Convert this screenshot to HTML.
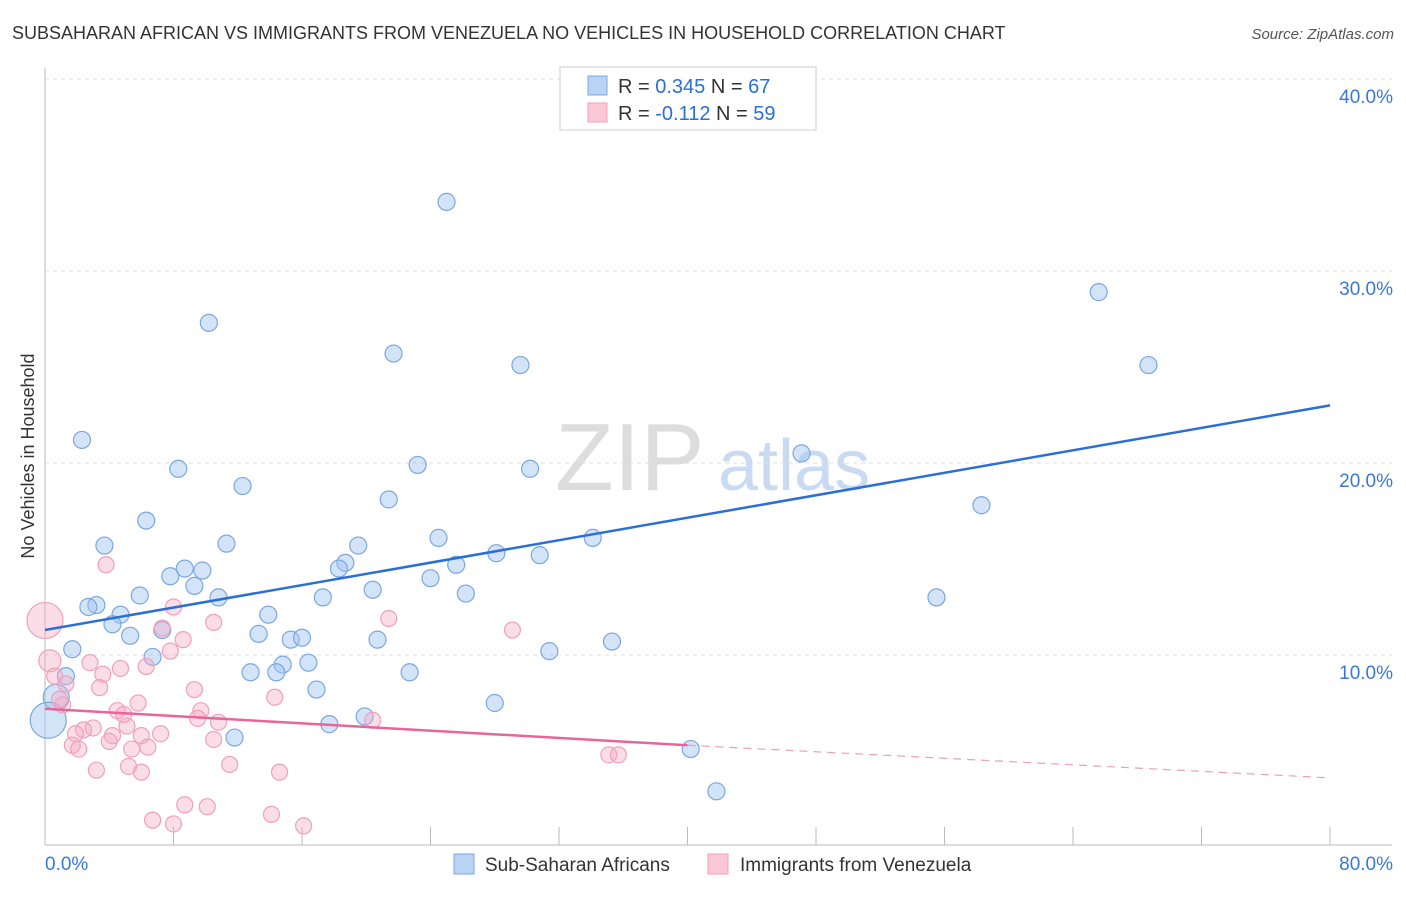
<!DOCTYPE html>
<html><head><meta charset="utf-8"><style>
body{margin:0;background:#fff;font-family:"Liberation Sans",sans-serif;}
svg text{font-family:"Liberation Sans",sans-serif;}
</style></head><body>
<svg id="chart" width="1406" height="892" viewBox="0 0 1406 892">
<text x="12" y="39" font-size="18" fill="#333">SUBSAHARAN AFRICAN VS IMMIGRANTS FROM VENEZUELA NO VEHICLES IN HOUSEHOLD CORRELATION CHART</text>
<text x="1394" y="39" font-size="15" fill="#555" text-anchor="end" font-style="italic">Source: ZipAtlas.com</text>
<text transform="translate(34,456) rotate(-90)" font-size="18" fill="#333" text-anchor="middle">No Vehicles in Household</text>
<text x="555" y="490" font-size="96" fill="#ddd" font-family="Liberation Serif">ZIP</text>
<text x="718" y="490" font-size="72" fill="#c8dbf3">atlas</text>
<g id="grid"></g><g id="axes"></g><g id="pts"></g><g id="lines"></g>
<g>
<rect x="560" y="67" width="256" height="63" fill="#fff" stroke="#ccc"/>
<rect x="588" y="76" width="19" height="19" fill="#b9d3f5" stroke="#7aa7e0"/>
<text x="618" y="93" font-size="20" fill="#333">R = <tspan fill="#2a6fd6">0.345</tspan>   N = <tspan fill="#2a6fd6">67</tspan></text>
<rect x="588" y="103" width="19" height="19" fill="#fbc8d8" stroke="#f0a0b8"/>
<text x="618" y="120" font-size="20" fill="#333">R = <tspan fill="#2a6fd6">-0.112</tspan>   N = <tspan fill="#2a6fd6">59</tspan></text>
</g>
<g>
<rect x="454" y="854" width="20" height="20" fill="#b9d3f5" stroke="#7aa7e0"/>
<text x="485" y="871" font-size="19" fill="#333">Sub-Saharan Africans</text>
<rect x="708" y="854" width="20" height="20" fill="#fbc8d8" stroke="#f0a0b8"/>
<text x="740" y="871" font-size="19" fill="#333">Immigrants from Venezuela</text>
</g>
</svg>
<script>
const blueX=[40.6,25.0,10.2,65.6,68.7,21.7,29.6,2.3,8.3,12.3,23.2,30.2,47.1,58.3,21.4,6.3,3.7,11.3,24.5,34.1,19.5,28.1,30.8,18.7,18.3,25.6,8.7,9.8,7.8,24.0,9.3,20.4,26.2,5.9,10.8,17.3,55.5,3.2,2.7,4.7,13.9,4.2,7.3,5.3,13.3,15.3,16.0,20.7,35.3,1.7,31.4,6.7,14.8,16.4,12.8,14.4,22.7,1.3,16.9,0.7,28.0,19.9,17.7,11.8,40.2,41.8,0.2];
const blueY=[38.0,33.6,27.3,28.9,25.1,25.7,25.1,21.2,19.7,18.8,19.9,19.7,20.5,17.8,18.1,17.0,15.7,15.8,16.1,16.1,15.7,15.3,15.2,14.8,14.5,14.7,14.5,14.4,14.1,14.0,13.6,13.4,13.2,13.1,13.0,13.0,13.0,12.6,12.5,12.1,12.1,11.6,11.3,11.0,11.1,10.8,10.9,10.8,10.7,10.3,10.2,9.9,9.5,9.6,9.1,9.1,9.1,8.9,8.2,7.8,7.5,6.8,6.4,5.7,5.1,2.9,6.6];
const pinkX=[0,0.3,0.6,0.9,1.3,1.1,3.8,8.0,7.3,10.5,21.4,29.1,8.6,7.8,2.8,4.7,6.3,3.6,3.4,9.3,14.3,5.8,4.5,4.9,9.7,9.5,10.8,20.4,5.1,2.4,3.0,1.9,4.2,6.0,7.2,10.5,4.0,1.7,2.1,5.4,6.4,35.1,35.7,11.5,5.2,6.0,3.2,14.6,8.7,10.1,14.1,6.7,8.0,16.1];
const pinkY=[11.8,9.7,8.9,7.7,8.5,7.4,14.7,12.5,11.4,11.7,11.9,11.3,10.8,10.2,9.6,9.3,9.4,9.0,8.3,8.2,7.8,7.5,7.1,6.9,7.1,6.7,6.5,6.6,6.3,6.1,6.2,5.9,5.8,5.8,5.9,5.6,5.5,5.3,5.1,5.1,5.2,4.8,4.8,4.3,4.2,3.9,4.0,3.9,2.2,2.1,1.7,1.4,1.2,1.1];
const blueTrend=[[0,11.3],[80,23.0]];
const pinkTrend=[[0,7.2],[40,5.3],[80,3.6]];
const yTicks=[10,20,30,40];
const xTickVals=[0,8,16,24,32,40,48,56,64,72,80];
const NS='http://www.w3.org/2000/svg';
const X=v=>45+v/80*1285, Y=v=>847-v*19.2;
function mk(tag,attrs,parent){const e=document.createElementNS(NS,tag);for(const k in attrs)e.setAttribute(k,attrs[k]);document.getElementById(parent).appendChild(e);return e;}
yTicks.forEach(t=>{
 const l=mk('line',{x1:45,x2:1392,y1:Y(t),y2:Y(t),stroke:'#ddd','stroke-dasharray':'4,4'},'grid');
 
 
 const tx=mk('text',{x:1393,y:Y(t)+24,'font-size':19,fill:'#3a78d8','text-anchor':'end'},'axes');tx.textContent=t.toFixed(1)+'%';
 
 
});
const ax=mk('line',{x1:45,x2:1392,y1:845,y2:845,stroke:'#bbb'},'axes');


const ay=mk('line',{x1:45,x2:45,y1:68,y2:845,stroke:'#bbb'},'axes');


xTickVals.forEach(t=>{const l=mk('line',{x1:X(t),x2:X(t),y1:827,y2:845,stroke:'#bbb'},'axes');
 
 });
[[0,'start',45],[80,'end',1393]].forEach(([v,a,p])=>{const t=mk('text',{x:p,y:870,'font-size':19,fill:'#3a78d8','text-anchor':a},'axes');t.textContent=v.toFixed(1)+'%';
 
 });
blueX.forEach((v,i)=>{const r=i==blueX.length-1?18:(i==59?13:8.5);
 const c=mk('circle',{cx:X(v),cy:Y(blueY[i]),r:r,fill:'rgba(160,195,240,0.45)',stroke:'#7aa7e0','stroke-width':1.2},'pts');
 
 });
pinkX.forEach((v,i)=>{const r=i==0?18:(i<2?11:8);
 const c=mk('circle',{cx:X(v),cy:Y(pinkY[i]),r:r,fill:'rgba(245,170,195,0.4)',stroke:'#f0a0b8','stroke-width':1.2},'pts');
 
 });
const bl=mk('line',{x1:X(blueTrend[0][0]),y1:Y(blueTrend[0][1]),x2:X(blueTrend[1][0]),y2:Y(blueTrend[1][1]),stroke:'#2a6fd6','stroke-width':2.5},'lines');


const pl=mk('line',{x1:X(pinkTrend[0][0]),y1:Y(pinkTrend[0][1]),x2:X(pinkTrend[1][0]),y2:Y(pinkTrend[1][1]),stroke:'#e8659a','stroke-width':2.5},'lines');


const pd=mk('line',{x1:X(pinkTrend[1][0]),y1:Y(pinkTrend[1][1]),x2:X(pinkTrend[2][0]),y2:Y(pinkTrend[2][1]),stroke:'#e8a0b8','stroke-width':1.2,'stroke-dasharray':'8,6'},'lines');


</script>
</body></html>
